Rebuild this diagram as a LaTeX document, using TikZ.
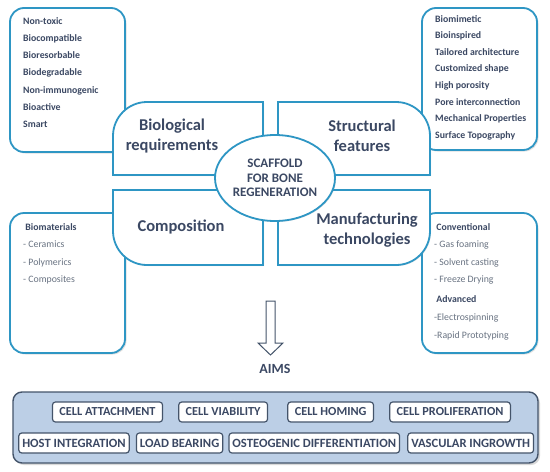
\documentclass[tikz,border=0pt]{standalone}
\usepackage{fontspec}
\setmainfont{Carlito}
\usepackage{tikz}
\usetikzlibrary{positioning, shapes.geometric, shadows}

\definecolor{ringblue}{RGB}{46,150,196}
\definecolor{textdark}{RGB}{59,72,99}
\definecolor{itemgray}{RGB}{105,115,130}
\definecolor{aimsfill}{RGB}{188,207,230}
\definecolor{aimsline}{RGB}{68,84,106}

\begin{document}
\begin{tikzpicture}[
    x=1pt, y=-1pt,
    quad/.style={draw=ringblue, line width=1.8pt, fill=white,
        drop shadow={shadow xshift=1pt, shadow yshift=-1pt, opacity=0.2}},
    listbox/.style={draw=ringblue, line width=1.8pt, fill=white, rounded corners=14pt,
        drop shadow={shadow xshift=1.5pt, shadow yshift=-1.5pt, opacity=0.25}},
    listtext/.style={anchor=north west, align=left, inner sep=0pt, text=textdark,
        font=\fontsize{9.8}{17.3}\selectfont},
    quadlabel/.style={align=center, text=textdark, font=\fontsize{16.5}{20}\selectfont\bfseries},
    aim/.style={draw=aimsline, line width=1.2pt, fill=white, rounded corners=3pt,
        text=textdark, font=\fontsize{12.3}{13}\selectfont\bfseries, minimum height=20pt}
]
    \useasboundingbox (0,0) rectangle (550,472);

    % side lists
    \node[listbox, minimum width=115pt, minimum height=144pt] (biolist) at (67.5,80) {};
    \node[listbox, minimum width=115pt, minimum height=142pt] (structlist) at (479.5,79) {};
    \node[listbox, minimum width=115pt, minimum height=140pt] (complist) at (67.5,283) {};
    \node[listbox, minimum width=115pt, minimum height=140pt] (manuflist) at (479.5,283) {};

    \node[listtext] (biotext) at (23,17) {\bfseries Non-toxic\\\bfseries Biocompatible\\\bfseries Bioresorbable\\\bfseries Biodegradable\\\bfseries Non-immunogenic\\\bfseries Bioactive\\\bfseries Smart};
    \node[listtext, font=\fontsize{9.8}{16.6}\selectfont] (structtext) at (435,15) {\bfseries Biomimetic\\\bfseries Bioinspired\\\bfseries Tailored architecture\\\bfseries Customized shape\\\bfseries High porosity\\\bfseries Pore interconnection\\\bfseries Mechanical Properties\\\bfseries Surface Topography};
    \node[listtext, font=\fontsize{9.8}{17.5}\selectfont] (comptext) at (23,223) {\ \bfseries Biomaterials\\\color{itemgray}- Ceramics\\\color{itemgray}- Polymerics\\\color{itemgray}- Composites};
    \node[listtext, font=\fontsize{9.8}{17.5}\selectfont] (manuftext) at (434,223) {\ \bfseries Conventional\\\color{itemgray}- Gas foaming\\\color{itemgray}- Solvent casting\\\color{itemgray}- Freeze Drying\\[2pt]\ \bfseries Advanced\\[1pt]\color{itemgray}-Electrospinning\\\color{itemgray}-Rapid Prototyping};

    % four quarters round the centre
    \draw[quad] (263,102) -- (263,175) -- (113,175) -- (113,136) .. controls (113,117.2) and (128.2,102) .. (147,102) -- cycle;
    \draw[quad] (278,102) -- (278,175) -- (430,175) -- (430,136) .. controls (430,117.2) and (414.8,102) .. (396,102) -- cycle;
    \draw[quad] (263,190) -- (263,265) -- (147,265) .. controls (128.2,265) and (113,249.8) .. (113,231) -- (113,190) -- cycle;
    \draw[quad] (278,190) -- (278,265) -- (396,265) .. controls (414.8,265) and (430,249.8) .. (430,231) -- (430,190) -- cycle;

    \node[quadlabel] (biolabel) at (172,136) {Biological\\requirements};
    \node[quadlabel] (structlabel) at (362,136) {Structural\\features};
    \node[quadlabel] (complabel) at (181,227) {Composition};
    \node[quadlabel] (manuflabel) at (367,230) {Manufacturing\\technologies};

    \node[ellipse, draw=ringblue, line width=1.8pt, fill=white, minimum width=120pt, minimum height=86pt,
        inner sep=0pt, align=center, text=textdark, font=\fontsize{13}{14.5}\selectfont\bfseries,
        drop shadow={shadow xshift=1pt, shadow yshift=-1pt, opacity=0.2}] (scaffold) at (275,178)
        {SCAFFOLD\\FOR BONE\\REGENERATION};

    % arrow down to the aims
    \draw[draw=aimsline, line width=1pt, fill=white, line join=miter]
        (270.5,301) ++(-4.5,0) -- ++(9,0) -- ++(0,42) -- ++(8,0) -- ++(-12.5,12)
        -- ++(-12.5,-12) -- ++(8,0) -- cycle;
    \node[text=textdark, font=\fontsize{14}{16}\selectfont\bfseries] (aimslabel) at (275,369) {AIMS};

    % aims panel
    \node[draw=aimsline, line width=1.4pt, fill=aimsfill, rounded corners=9pt,
        minimum width=525pt, minimum height=71pt,
        drop shadow={shadow xshift=2pt, shadow yshift=-2pt, opacity=0.3}] (aims) at (275.5,427.5) {};

    \node[aim, inner xsep=7pt] (attach) at (107.5,412) {CELL ATTACHMENT};
    \node[aim, inner xsep=7pt, right=15pt of attach] (viability) {CELL VIABILITY};
    \node[aim, inner xsep=7pt, right=19pt of viability] (homing) {CELL HOMING};
    \node[aim, inner xsep=7pt, right=15pt of homing] (prolif) {CELL PROLIFERATION};

    \node[aim, inner xsep=3.5pt, font=\fontsize{12.6}{13}\selectfont\bfseries] (host) at (74,443) {HOST INTEGRATION};
    \node[aim, inner xsep=3.5pt, font=\fontsize{12.6}{13}\selectfont\bfseries, right=6pt of host] (load) {LOAD BEARING};
    \node[aim, inner xsep=3.5pt, font=\fontsize{12.6}{13}\selectfont\bfseries, right=5pt of load] (osteo) {OSTEOGENIC DIFFERENTIATION};
    \node[aim, inner xsep=3.5pt, font=\fontsize{12.6}{13}\selectfont\bfseries, right=7pt of osteo] (vascular) {VASCULAR INGROWTH};
\end{tikzpicture}
\end{document}
